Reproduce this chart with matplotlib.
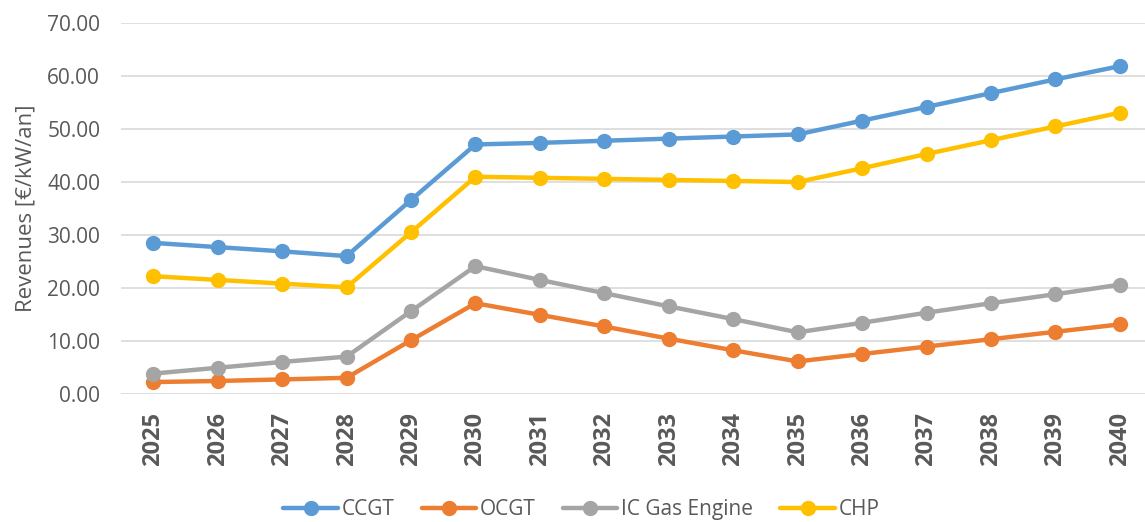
import matplotlib.pyplot as plt

years = [str(y) for y in range(2025, 2041)]
ccgt = [28.5, 27.7, 26.9, 26.0, 36.6, 47.1, 47.4, 47.8, 48.2, 48.6, 49.0, 51.6, 54.2, 56.8, 59.4, 61.9]
ocgt = [2.2, 2.4, 2.7, 3.0, 10.1, 17.1, 14.9, 12.7, 10.4, 8.2, 6.1, 7.5, 8.9, 10.3, 11.7, 13.1]
ic_gas = [3.8, 4.9, 6.0, 7.0, 15.6, 24.1, 21.5, 19.0, 16.5, 14.1, 11.6, 13.4, 15.3, 17.1, 18.8, 20.6]
chp = [22.2, 21.5, 20.8, 20.1, 30.5, 41.0, 40.8, 40.6, 40.4, 40.2, 40.0, 42.6, 45.3, 47.9, 50.5, 53.1]

series = [
    ('CCGT', ccgt, '#5B9BD5'),
    ('OCGT', ocgt, '#ED7D31'),
    ('IC Gas Engine', ic_gas, '#A5A5A5'),
    ('CHP', chp, '#FFC000'),
]

plt.rcParams['font.family'] = ['Open Sans', 'DejaVu Sans']
text_col = '#595959'

fig = plt.figure(figsize=(11.45, 5.22), dpi=100)
ax = fig.add_axes([0.1057, 0.2458, 0.8943, 0.7096])

x = range(len(years))
for name, vals, col in series:
    ax.plot(x, vals, color=col, lw=3.2, marker='o', ms=10, label=name,
            solid_capstyle='round', zorder=3)

ax.set_xlim(-0.5, 15.39)
ax.set_ylim(0, 70)
ax.set_yticks(range(0, 71, 10))
ax.set_yticklabels([f'{v:.2f}' for v in range(0, 71, 10)], fontsize=15, color=text_col)
ax.set_xticks(list(x))
ax.set_xticklabels(years, rotation=90, fontsize=17, fontweight='bold', color=text_col)
ax.tick_params(axis='y', length=0, pad=15)
ax.tick_params(axis='x', length=0, pad=13)
ax.grid(axis='y', color='#D9D9D9', lw=1.2, zorder=0)
for s in ax.spines.values():
    s.set_visible(False)
ax.set_ylabel('Revenues [€/kW/an]', fontsize=16, color=text_col, labelpad=8)

# legend low at the bottom edge, but kept fully inside the figure
fig.legend(loc='center', bbox_to_anchor=(0.508, 0.024), ncol=4, frameon=False,
           fontsize=15, handlelength=2.6, columnspacing=1.3, handletextpad=0.2,
           labelcolor=text_col)

fig.savefig('out.png', dpi=100)
